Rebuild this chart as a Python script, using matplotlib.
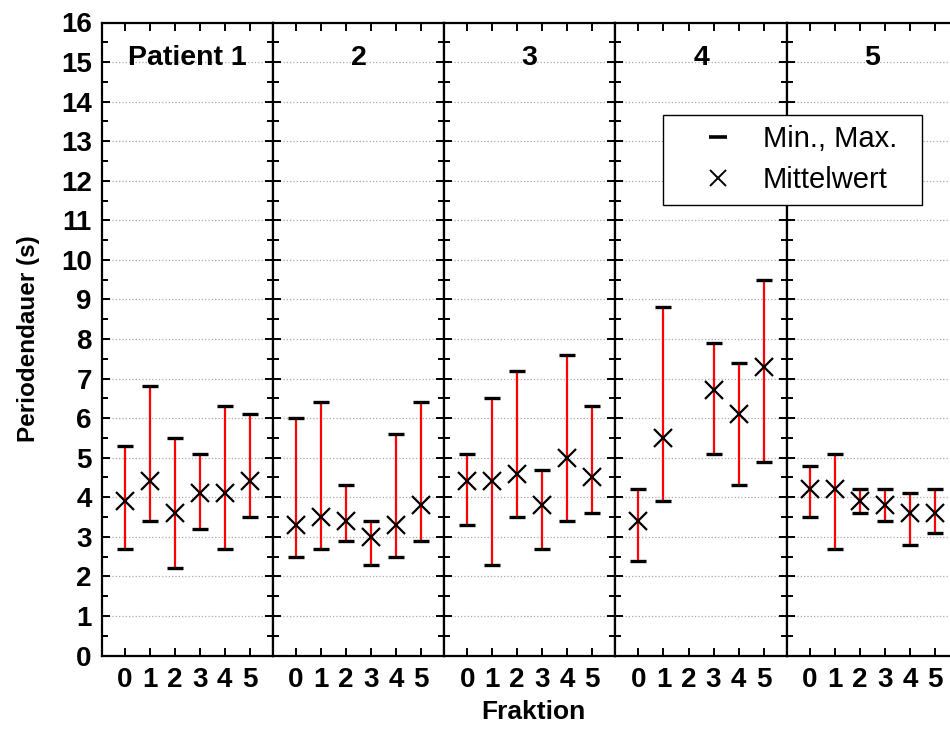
import matplotlib
matplotlib.use("Agg")
import matplotlib.pyplot as plt
from matplotlib.lines import Line2D
from matplotlib.ticker import MultipleLocator

plt.rcParams['font.family'] = ['Liberation Sans', 'DejaVu Sans']

# period duration per fraction (0..5), one list per patient; None = no data
patients = ["Patient 1", "2", "3", "4", "5"]
fractions = [0, 1, 2, 3, 4, 5]

mean_vals = [
    [3.9, 4.4, 3.6, 4.1, 4.1, 4.4],
    [3.3, 3.5, 3.4, 3.0, 3.3, 3.8],
    [4.4, 4.4, 4.6, 3.8, 5.0, 4.5],
    [3.4, 5.5, None, 6.7, 6.1, 7.3],
    [4.2, 4.2, 3.9, 3.8, 3.6, 3.6],
]
min_vals = [
    [2.7, 3.4, 2.2, 3.2, 2.7, 3.5],
    [2.5, 2.7, 2.9, 2.3, 2.5, 2.9],
    [3.3, 2.3, 3.5, 2.7, 3.4, 3.6],
    [2.4, 3.9, None, 5.1, 4.3, 4.9],
    [3.5, 2.7, 3.6, 3.4, 2.8, 3.1],
]
max_vals = [
    [5.3, 6.8, 5.5, 5.1, 6.3, 6.1],
    [6.0, 6.4, 4.3, 3.4, 5.6, 6.4],
    [5.1, 6.5, 7.2, 4.7, 7.6, 6.3],
    [4.2, 8.8, None, 7.9, 7.4, 9.5],
    [4.8, 5.1, 4.2, 4.2, 4.1, 4.2],
]

W, H = 950, 745
fig = plt.figure(figsize=(W / 100, H / 100), dpi=100)

left_px, top_px, bottom_px, panel_w = 101.5, 22.5, 655.5, 171.3
tick_font = dict(weight='bold', size=20)

for i, name in enumerate(patients):
    x0 = (left_px + i * panel_w) / W
    ax = fig.add_axes([x0, 1 - bottom_px / H, panel_w / W, (bottom_px - top_px) / H])

    xs = [f for f, m in zip(fractions, mean_vals[i]) if m is not None]
    mn = [v for v in min_vals[i] if v is not None]
    mx = [v for v in max_vals[i] if v is not None]
    me = [v for v in mean_vals[i] if v is not None]

    ax.vlines(xs, mn, mx, color='red', lw=1.6, zorder=3)
    ax.plot(xs, mn, ls='none', marker='_', ms=12, mew=2.4, color='black', zorder=4)
    ax.plot(xs, mx, ls='none', marker='_', ms=12, mew=2.4, color='black', zorder=4)
    ax.plot(xs, me, ls='none', marker='x', ms=13, mew=1.6, color='black', zorder=5)

    ax.set_xlim(-0.92, 5.92)
    ax.set_ylim(0, 16)
    ax.set_xticks(fractions)
    ax.set_xticklabels([str(f) for f in fractions], fontdict=tick_font)
    ax.yaxis.set_major_locator(MultipleLocator(1))
    ax.yaxis.set_minor_locator(MultipleLocator(0.5))
    ax.tick_params(which='both', direction='in', top=True, right=True, width=1.4)
    ax.tick_params(which='major', length=6)
    ax.tick_params(which='minor', length=4)
    ax.tick_params(axis='x', pad=8)
    ax.grid(axis='y', which='major', color='#aaaaaa', ls=':', lw=0.9, zorder=0)
    for s in ax.spines.values():
        s.set_linewidth(1.6)

    if i == 0:
        for lab in ax.get_yticklabels():
            lab.set_fontweight('bold')
            lab.set_fontsize(20)
        ax.tick_params(axis='y', pad=7)
        ax.set_ylabel("Periodendauer (s)", fontsize=17.5, fontweight='bold', labelpad=15)
    else:
        ax.set_yticklabels([])

    ax.text(2.5, 15.1, name, ha='center', va='center', fontsize=20.5, fontweight='bold')

fig.text(533 / W, 1 - 712 / H, "Fraktion",
         ha='center', va='center', fontsize=19, fontweight='bold')

handles = [
    Line2D([], [], ls='none', marker='_', ms=13, mew=2.6, color='black'),
    Line2D([], [], ls='none', marker='x', ms=11.5, mew=1.4, color='black'),
]
leg = fig.legend(handles, ["Min., Max.", "Mittelwert"], loc='upper left',
                 bbox_to_anchor=(663 / W, 1 - 203 / H, 259 / W, 88 / H), mode='expand',
                 borderaxespad=0,
                 fontsize=21, frameon=True, fancybox=False, framealpha=1,
                 edgecolor='black', handletextpad=0.0, borderpad=0.35,
                 labelspacing=0.45, handlelength=3.07)
leg.get_frame().set_linewidth(1.0)
leg.set_zorder(10)

fig.savefig("out.png", dpi=100)
